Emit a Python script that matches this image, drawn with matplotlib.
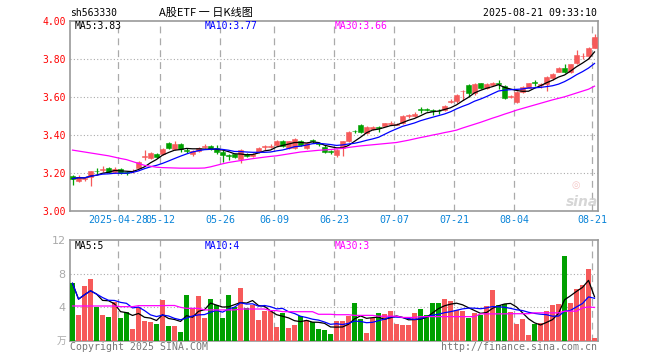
import numpy as np
import pandas as pd
import matplotlib
matplotlib.use('Agg')
import matplotlib.pyplot as plt

# ────────────── data ──────────────
date_ticks = [8, 15, 25, 34, 44, 54, 64, 74, 87]
date_labels = ['2025-04-28', '05-12', '05-26', '06-09', '06-23', '07-07', '07-21', '08-04', '08-21']

opens = [3.183, 3.160, 3.168, 3.180, 3.212, 3.218, 3.225, 3.205, 3.220, 3.205,
         3.208, 3.228, 3.285, 3.280, 3.300, 3.300, 3.355, 3.325, 3.350, 3.318,
         3.300, 3.315, 3.338, 3.340, 3.330, 3.310, 3.292, 3.297, 3.275, 3.300,
         3.290, 3.310, 3.335, 3.338, 3.345, 3.370, 3.330, 3.330, 3.370, 3.330,
         3.372, 3.355, 3.337, 3.315, 3.293, 3.330, 3.370, 3.422, 3.450, 3.410,
         3.430, 3.442, 3.447, 3.458, 3.453, 3.460, 3.498, 3.500, 3.537, 3.537,
         3.532, 3.527, 3.530, 3.575, 3.577, 3.628, 3.662, 3.618, 3.670, 3.645,
         3.660, 3.672, 3.656, 3.598, 3.574, 3.627, 3.647, 3.678, 3.663, 3.665,
         3.697, 3.732, 3.750, 3.730, 3.780, 3.812, 3.816, 3.858]
closes = [3.170, 3.180, 3.172, 3.210, 3.208, 3.222, 3.205, 3.220, 3.200, 3.198,
          3.212, 3.260, 3.290, 3.307, 3.285, 3.325, 3.330, 3.350, 3.325, 3.314,
          3.315, 3.330, 3.342, 3.325, 3.310, 3.295, 3.288, 3.285, 3.320, 3.290,
          3.300, 3.330, 3.340, 3.342, 3.370, 3.340, 3.367, 3.380, 3.345, 3.355,
          3.368, 3.350, 3.310, 3.308, 3.323, 3.367, 3.415, 3.418, 3.415, 3.440,
          3.440, 3.438, 3.463, 3.462, 3.457, 3.500, 3.502, 3.510, 3.533, 3.533,
          3.528, 3.523, 3.550, 3.578, 3.610, 3.632, 3.618, 3.665, 3.645, 3.665,
          3.675, 3.668, 3.595, 3.602, 3.627, 3.653, 3.670, 3.674, 3.667, 3.705,
          3.720, 3.753, 3.728, 3.770, 3.820, 3.816, 3.858, 3.916]
highs = [3.190, 3.190, 3.180, 3.210, 3.225, 3.235, 3.230, 3.230, 3.225, 3.210,
         3.220, 3.265, 3.320, 3.310, 3.305, 3.330, 3.360, 3.370, 3.355, 3.330,
         3.320, 3.335, 3.350, 3.345, 3.345, 3.320, 3.300, 3.300, 3.325, 3.305,
         3.305, 3.335, 3.345, 3.350, 3.375, 3.375, 3.370, 3.385, 3.375, 3.360,
         3.380, 3.360, 3.345, 3.320, 3.325, 3.370, 3.420, 3.425, 3.455, 3.445,
         3.445, 3.445, 3.465, 3.475, 3.460, 3.505, 3.510, 3.520, 3.545, 3.540,
         3.535, 3.535, 3.555, 3.590, 3.615, 3.635, 3.665, 3.670, 3.675, 3.670,
         3.680, 3.690, 3.660, 3.610, 3.630, 3.655, 3.675, 3.690, 3.675, 3.710,
         3.725, 3.755, 3.775, 3.775, 3.845, 3.830, 3.860, 3.928]
lows = [3.135, 3.155, 3.160, 3.130, 3.195, 3.205, 3.200, 3.200, 3.195, 3.190,
        3.200, 3.225, 3.270, 3.275, 3.280, 3.295, 3.325, 3.320, 3.310, 3.305,
        3.290, 3.310, 3.330, 3.320, 3.300, 3.260, 3.270, 3.280, 3.250, 3.285,
        3.285, 3.305, 3.320, 3.330, 3.340, 3.335, 3.325, 3.325, 3.340, 3.325,
        3.355, 3.340, 3.305, 3.300, 3.285, 3.290, 3.365, 3.410, 3.410, 3.405,
        3.425, 3.415, 3.445, 3.450, 3.450, 3.455, 3.490, 3.495, 3.515, 3.525,
        3.505, 3.510, 3.525, 3.570, 3.570, 3.585, 3.600, 3.610, 3.640, 3.640,
        3.655, 3.640, 3.590, 3.595, 3.570, 3.620, 3.645, 3.655, 3.645, 3.630,
        3.690, 3.730, 3.725, 3.725, 3.775, 3.800, 3.800, 3.855]
# MA30 of price
ma30_price = [3.320, 3.315, 3.310, 3.305, 3.300, 3.295, 3.290, 3.283, 3.276, 3.270,
              3.260, 3.250, 3.240, 3.235, 3.230, 3.228, 3.227, 3.226, 3.225, 3.225,
              3.225, 3.225, 3.226, 3.232, 3.240, 3.248, 3.255, 3.260, 3.265, 3.270,
              3.275, 3.279, 3.283, 3.287, 3.290, 3.295, 3.300, 3.305, 3.310, 3.313,
              3.316, 3.319, 3.321, 3.323, 3.326, 3.329, 3.334, 3.338, 3.342, 3.345,
              3.348, 3.351, 3.354, 3.357, 3.360, 3.366, 3.372, 3.379, 3.386, 3.392,
              3.399, 3.405, 3.412, 3.418, 3.425, 3.436, 3.446, 3.456, 3.466, 3.477,
              3.488, 3.498, 3.509, 3.519, 3.530, 3.539, 3.548, 3.557, 3.566, 3.575,
              3.584, 3.592, 3.600, 3.610, 3.620, 3.630, 3.640, 3.656]

volumes = [6.83, 3.05, 6.51, 7.35, 4.00, 3.05, 2.83, 4.62, 2.72, 3.42,
           1.37, 4.00, 2.35, 2.23, 1.97, 4.85, 1.75, 1.75, 1.05, 5.44,
           3.88, 5.31, 2.72, 4.98, 4.24, 2.72, 5.44, 4.02, 6.25, 3.91,
           4.24, 2.45, 3.54, 3.54, 1.65, 3.31, 1.47, 1.85, 2.97, 2.41,
           2.25, 1.37, 1.25, 0.80, 2.33, 2.33, 2.97, 4.48, 2.57, 0.89,
           2.73, 3.28, 3.16, 3.52, 1.97, 1.85, 1.85, 3.28, 3.76, 3.05,
           4.48, 4.48, 4.96, 4.72, 3.64, 3.52, 2.73, 3.28, 3.05, 4.12,
           6.03, 4.24, 4.36, 3.40, 1.97, 2.57, 0.66, 1.97, 2.09, 3.52,
           4.24, 4.36, 10.10, 4.48, 6.15, 6.63, 8.54, 0.30]
vol_ma30 = [4.12, 4.12, 4.12, 4.12, 4.12, 4.12, 4.12, 4.12, 4.04, 4.04,
            4.04, 4.16, 4.16, 4.16, 4.16, 4.16, 4.18, 4.18, 3.96, 3.84,
            3.84, 3.84, 3.65, 3.65, 3.65, 3.65, 3.65, 3.65, 3.76, 3.76,
            3.76, 3.76, 3.76, 3.57, 3.57, 3.44, 3.44, 3.44, 3.44, 3.44,
            3.44, 3.13, 3.13, 3.13, 3.08, 3.08, 3.08, 3.00, 3.00, 3.00,
            3.00, 2.90, 2.90, 2.90, 2.90, 2.75, 2.75, 2.75, 2.85, 2.85,
            2.85, 2.85, 2.85, 2.85, 2.85, 2.85, 2.85, 2.85, 3.18, 3.18,
            3.18, 3.18, 3.18, 3.20, 3.20, 3.20, 3.20, 3.30, 3.30, 3.30,
            3.30, 3.30, 3.50, 3.50, 3.50, 3.90, 4.00, 3.95]

df = pd.DataFrame({'open': opens, 'close': closes, 'high': highs, 'low': lows, 'vol': volumes})
df['ma5'] = df['close'].rolling(5, min_periods=1).mean()
df['ma10'] = df['close'].rolling(10, min_periods=1).mean()
df['vma5'] = df['vol'].rolling(5, min_periods=1).mean()
df['vma10'] = df['vol'].rolling(10, min_periods=1).mean()

RED = '#f65a5a'
GREEN = '#00a000'
GRID = '#aaaaaa'
x = np.arange(len(df))
up = df['close'] >= df['open']
colors = np.where(up, RED, GREEN)

plt.rcParams['font.family'] = ['DejaVu Sans Mono', 'Noto Sans CJK SC']
W, H = 660, 360
fig = plt.figure(figsize=(6.6, 3.6), dpi=100)


def px(x0, y0):
    return x0 / W, 1 - y0 / H


ax = fig.add_axes([70 / W, 1 - 211 / H, 527.7 / W, 190.3 / H])
axv = fig.add_axes([70 / W, 1 - 340.5 / H, 527.7 / W, 100.5 / H])

xlim = (-0.42, 87.53)
grid_x = [t - 0.37 for t in date_ticks]

# ────────────── K线 ──────────────
ax.vlines(x, df['low'], df['high'], colors=colors, lw=0.9, zorder=3)
body_lo = np.minimum(df['open'], df['close'])
body_h = np.maximum(np.abs(df['close'] - df['open']), 0.003)
ax.bar(x, body_h, bottom=body_lo, width=0.72, color=colors, edgecolor=colors, lw=0.4, zorder=4)
ax.plot(x, df['ma5'], color='black', lw=0.9, zorder=5)
ax.plot(x, df['ma10'], color='#0000ff', lw=0.9, zorder=5)
ax.plot(x, ma30_price, color='#ff00ff', lw=0.9, zorder=5)

ax.set_xlim(*xlim)
ax.set_ylim(3.0, 4.0)
ax.set_yticks([3.0, 3.2, 3.4, 3.6, 3.8, 4.0])
ax.set_yticklabels(['3.00', '3.20', '3.40', '3.60', '3.80', '4.00'], color='#ff0000', fontsize=7)
ax.set_xticks(grid_x)
ax.set_xticklabels(date_labels, color='#0a84d8', fontsize=7.2)
ax.tick_params(length=0, pad=3)
for yv in [3.2, 3.4, 3.6, 3.8]:
    ax.axhline(yv, color=GRID, lw=0.8, ls=(0, (1, 2)), zorder=1)
for gx in grid_x:
    ax.axvline(gx, color=GRID, lw=0.9, ls=(0, (5.5, 4)), zorder=1)

# ────────────── 成交量 ──────────────
axv.bar(x, df['vol'], width=0.83, color=colors, zorder=3)
axv.plot(x, df['vma5'], color='black', lw=0.9, zorder=5)
axv.plot(x, df['vma10'], color='#0000ff', lw=0.9, zorder=5)
axv.plot(x, vol_ma30, color='#ff00ff', lw=0.9, zorder=5)
axv.set_xlim(*xlim)
axv.set_ylim(0, 12)
axv.set_xticks([])
axv.set_yticks([4, 8, 12])
axv.set_yticklabels(['4', '8', '12'], color='#aaaaaa', fontsize=8, family='DejaVu Sans')
axv.tick_params(length=0, pad=3)
for yv in [4, 8]:
    axv.axhline(yv, color=GRID, lw=0.8, ls=(0, (1, 2)), zorder=1)
for gx in grid_x:
    axv.axvline(gx, color=GRID, lw=0.9, ls=(0, (5.5, 4)), zorder=1)

for a in (ax, axv):
    for s in a.spines.values():
        s.set_color('#999999')
        s.set_linewidth(1.2)

# ────────────── 文字 ──────────────
fig.text(*px(70, 13), 'sh563330', fontsize=7, va='center', ha='left')
fig.text(*px(206, 13), 'A股ETF 一 日K线图', fontsize=8, va='center', ha='center',
         family=['Noto Sans CJK SC', 'DejaVu Sans'])
fig.text(*px(597, 13), '2025-08-21 09:33:10', fontsize=7.1, va='center', ha='right')

fig.text(*px(75, 26), 'MA5:3.83', fontsize=7, va='center', color='black')
fig.text(*px(204.7, 26), 'MA10:3.77', fontsize=7, va='center', color='#0000ff')
fig.text(*px(334.7, 26), 'MA30:3.66', fontsize=7, va='center', color='#ff00ff')
fig.text(*px(75, 246), 'MA5:5', fontsize=7, va='center', color='black')
fig.text(*px(204.7, 246), 'MA10:4', fontsize=7, va='center', color='#0000ff')
fig.text(*px(334.7, 246), 'MA30:3', fontsize=7, va='center', color='#ff00ff')

fig.text(*px(66, 341), '万', fontsize=7, va='center', ha='right', color='#aaaaaa',
         family=['Noto Sans CJK SC', 'DejaVu Sans'])
fig.text(*px(70, 347), 'Copyright 2025 SINA.COM', fontsize=7.1, va='center', ha='left', color='#777777')
fig.text(*px(597, 347), 'http://finance.sina.com.cn', fontsize=7.1, va='center', ha='right', color='#777777')

# 水印
fig.text(*px(582, 202), 'sina', fontsize=10, va='center', ha='center', color='#cccccc',
         style='italic', weight='bold', family='DejaVu Sans', alpha=0.8)
fig.text(*px(576, 185), '◎', fontsize=7, va='center', ha='center', color='#f2b8b8',
         family='DejaVu Sans', alpha=0.8)

fig.savefig('out.png', dpi=100)
